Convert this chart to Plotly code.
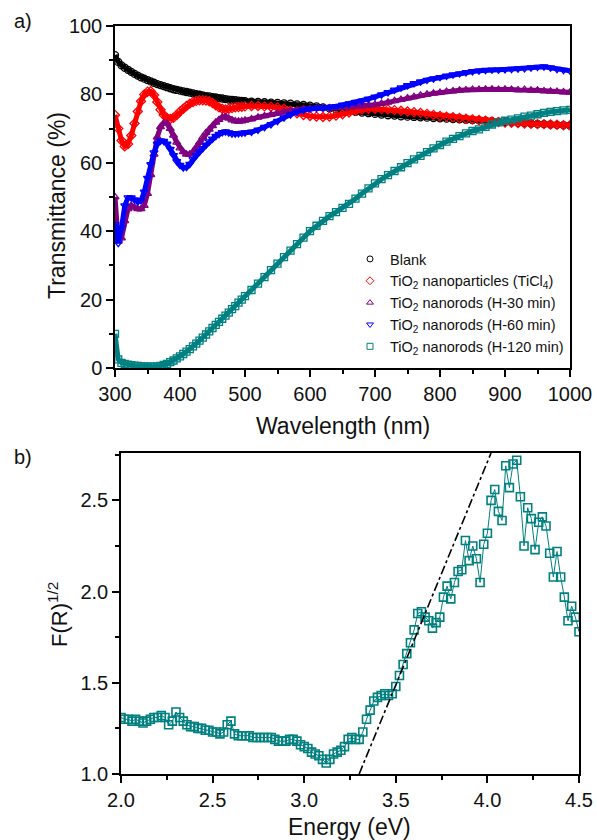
import plotly.graph_objects as go

# ---------------- Data: panel a) transmittance ----------------
wavelength = list(range(300, 500, 5)) + list(range(500, 1001, 10))

blank = [91.5, 89.5, 88.5, 87.8, 87.2, 86.6, 86.0, 85.5, 85.0, 84.6,
         84.2, 83.8, 83.4, 83.0, 82.7, 82.4, 82.1, 81.8, 81.5, 81.3,
         81.1, 80.9, 80.7, 80.5, 80.3, 80.1, 79.9, 79.7, 79.5, 79.4,
         79.2, 79.1, 78.9, 78.8, 78.6, 78.5, 78.4, 78.3, 78.2, 78.1,
         78.0, 77.9, 77.8, 77.7, 77.6, 77.5, 77.4, 77.3, 77.1, 76.9,
         76.7, 76.5, 76.2, 75.9, 75.6, 75.3, 75.1, 74.9, 74.7, 74.5,
         74.3, 74.1, 73.9, 73.8, 73.6, 73.5, 73.4, 73.3, 73.2, 73.1,
         73.0, 72.9, 72.8, 72.7, 72.6, 72.5, 72.4, 72.3, 72.2, 72.0,
         71.9, 71.8, 71.7, 71.6, 71.5, 71.4, 71.3, 71.2, 71.1, 71.0, 70.9]

np_ticl4 = [74.0, 70.0, 66.5, 64.8, 65.5, 68.0, 71.5, 75.0, 78.0, 80.0,
            80.8, 80.9, 79.8, 77.8, 75.5, 74.0, 73.1, 72.8, 73.2, 74.0,
            75.0, 75.8, 76.6, 77.3, 77.8, 78.1, 78.3, 78.3, 78.2, 78.0,
            77.5, 76.8, 76.2, 75.8, 75.6, 75.8, 76.0, 76.2, 76.3, 76.4,
            76.5, 76.6, 76.6, 76.5, 76.4, 76.2, 75.8, 75.2, 74.5, 74.0,
            73.7, 73.5, 73.4, 73.5, 73.8, 74.2, 74.7, 75.2, 75.6, 75.8,
            75.8, 75.7, 75.6, 75.4, 75.2, 75.0, 74.8, 74.6, 74.3, 74.0,
            73.7, 73.5, 73.3, 73.1, 72.9, 72.7, 72.5, 72.3, 72.1, 71.9,
            71.8, 71.7, 71.6, 71.5, 71.4, 71.3, 71.3, 71.2, 71.1, 71.0, 71.0]

nr_30 = [50.0, 37.0, 38.0, 43.0, 46.5, 47.5, 47.0, 46.5, 46.5, 47.5,
         51.0, 56.5, 62.5, 67.5, 70.5, 71.6, 71.5, 70.0, 68.0, 66.0,
         64.3, 63.2, 62.5, 62.5, 63.2, 64.5, 66.0, 67.5, 68.8, 69.8,
         70.8, 71.8, 72.6, 73.3, 73.5, 73.0, 72.5, 72.2, 72.1, 72.2,
         72.4, 72.8, 73.3, 73.7, 74.1, 74.5, 74.9, 75.2, 75.5, 75.7,
         75.8, 75.9, 76.0, 76.0, 76.1, 76.2, 76.3, 76.4, 76.5, 76.7,
         77.0, 77.3, 77.7, 78.1, 78.5, 78.9, 79.3, 79.7, 80.0, 80.3,
         80.5, 80.8, 81.0, 81.2, 81.3, 81.4, 81.4, 81.5, 81.5, 81.4,
         81.5, 81.4, 81.3, 81.4, 81.2, 81.2, 81.0, 80.9, 80.8, 80.7, 80.6]

nr_60 = [42.0, 36.5, 41.0, 47.5, 49.8, 49.8, 49.2, 48.6, 49.0, 51.5,
         55.5, 59.5, 63.0, 65.5, 66.4, 66.3, 65.5, 64.0, 62.2, 60.4,
         59.3, 58.6, 58.7, 59.6, 61.0, 62.2, 63.2, 64.2, 65.2, 66.2,
         67.0, 67.8, 68.4, 68.9, 69.1, 68.8, 68.5, 68.5, 68.6, 68.7,
         68.8, 69.0, 69.6, 70.4, 71.2, 72.2, 73.2, 74.1, 74.9, 75.4,
         75.8, 76.0, 76.1, 76.2, 76.5, 76.9, 77.3, 77.7, 78.1, 78.7,
         79.3, 79.9, 80.6, 81.3, 82.0, 82.6, 83.2, 83.7, 84.2, 84.6,
         85.0, 85.4, 85.8, 86.1, 86.4, 86.7, 86.9, 87.1, 87.2, 87.2,
         87.3, 87.4, 87.5, 87.6, 87.8, 88.0, 88.1, 87.8, 87.4, 87.1, 86.9]

nr_120 = [10.0, 2.5, 1.5, 1.2, 1.0, 0.8, 0.7, 0.6, 0.5, 0.5,
          0.4, 0.4, 0.4, 0.5, 0.6, 0.9, 1.2, 1.7, 2.2, 2.8,
          3.4, 4.1, 4.8, 5.5, 6.3, 7.1, 8.0, 8.9, 9.8, 10.7,
          11.7, 12.6, 13.5, 14.4, 15.3, 16.2, 17.2, 18.1, 19.1, 20.0,
          21.0, 22.8, 24.7, 26.6, 28.6, 30.5, 32.4, 34.3, 36.2, 38.1,
          40.0, 41.6, 43.0, 44.4, 45.6, 46.8, 48.0, 49.5, 51.0, 52.5,
          54.0, 55.2, 56.4, 57.6, 58.7, 59.9, 61.0, 62.0, 63.1, 64.2,
          65.2, 66.2, 67.0, 67.8, 68.6, 69.3, 69.8, 70.5, 71.2, 71.8,
          72.3, 72.6, 73.0, 73.5, 73.8, 74.2, 74.6, 74.9, 75.1, 75.3, 75.5]

series_names = ["Blank",
                "TiO<sub>2</sub> nanoparticles (TiCl<sub>4</sub>)",
                "TiO<sub>2</sub> nanorods (H-30 min)",
                "TiO<sub>2</sub> nanorods (H-60 min)",
                "TiO<sub>2</sub> nanorods (H-120 min)"]
series_values = [blank, np_ticl4, nr_30, nr_60, nr_120]
series_colors = ["#000000", "#FF0000", "#800080", "#0000FF", "#008080"]
series_symbols = ["circle-open", "diamond-open", "triangle-up-open",
                  "triangle-down-open", "square-open"]

a_xticks = [300, 400, 500, 600, 700, 800, 900, 1000]
a_yticks = [0, 20, 40, 60, 80, 100]

# ---------------- Data: panel b) Kubelka-Munk ----------------
energy = [2.00, 2.02, 2.04, 2.06, 2.08, 2.10, 2.12, 2.14, 2.16, 2.18,
          2.20, 2.22, 2.24, 2.26, 2.28, 2.30, 2.32, 2.34, 2.36, 2.38,
          2.40, 2.42, 2.44, 2.46, 2.48, 2.50, 2.52, 2.54, 2.56, 2.58,
          2.60, 2.62, 2.64, 2.66, 2.68, 2.70, 2.72, 2.74, 2.76, 2.78,
          2.80, 2.82, 2.84, 2.86, 2.88, 2.90, 2.92, 2.94, 2.96, 2.98,
          3.00, 3.02, 3.04, 3.06, 3.08, 3.10, 3.12, 3.14, 3.16, 3.18,
          3.20, 3.22, 3.24, 3.26, 3.28, 3.30, 3.32, 3.34, 3.36, 3.38,
          3.40, 3.42, 3.44, 3.46, 3.48, 3.50, 3.52, 3.54, 3.56, 3.58,
          3.60, 3.62, 3.64, 3.66, 3.68, 3.70, 3.72, 3.74, 3.76, 3.78,
          3.80, 3.82, 3.84, 3.86, 3.88, 3.90, 3.92, 3.94, 3.96, 3.98,
          4.00, 4.02, 4.04, 4.06, 4.08, 4.10, 4.12, 4.14, 4.16, 4.18,
          4.20, 4.22, 4.24, 4.26, 4.28, 4.30, 4.32, 4.34, 4.36, 4.38,
          4.40, 4.42, 4.44, 4.46, 4.48, 4.50]

f_r = [1.31, 1.30, 1.30, 1.29, 1.30, 1.29, 1.28, 1.29, 1.30, 1.31,
       1.31, 1.32, 1.31, 1.27, 1.29, 1.34, 1.31, 1.29, 1.27, 1.26,
       1.26, 1.25, 1.25, 1.24, 1.24, 1.23, 1.23, 1.22, 1.23, 1.27,
       1.29, 1.22, 1.21, 1.21, 1.21, 1.21, 1.20, 1.20, 1.20, 1.20,
       1.20, 1.20, 1.19, 1.18, 1.18, 1.18, 1.19, 1.19, 1.18, 1.16,
       1.15, 1.14, 1.12, 1.11, 1.10, 1.08, 1.06, 1.08, 1.11, 1.12,
       1.13, 1.15, 1.19, 1.20, 1.19, 1.19, 1.23, 1.30, 1.35, 1.40,
       1.42, 1.43, 1.44, 1.43, 1.44, 1.48, 1.54, 1.60, 1.66, 1.72,
       1.79, 1.88, 1.89, 1.86, 1.84, 1.80, 1.83, 1.86, 1.97, 2.03,
       1.96, 2.05, 2.11, 2.12, 2.28, 2.17, 2.25, 2.18, 2.05, 2.26,
       2.32, 2.50, 2.56, 2.44, 2.39, 2.69, 2.57, 2.70, 2.72, 2.52,
       2.25, 2.46, 2.40, 2.23, 2.38, 2.41, 2.36, 2.21, 2.08, 2.22,
       2.08, 1.97, 1.84, 1.92, 1.86, 1.78]

fit_energy = [3.30, 4.02]
fit_value = [1.00, 2.76]

b_xticks = [2.0, 2.5, 3.0, 3.5, 4.0, 4.5]
b_yticks = [1.0, 1.5, 2.0, 2.5]

# ---------------- Figure ----------------
# The page body margin is removed (see post_script), so the figure fills the window
W, H = 597, 840
FONT = "Arial, 'Liberation Sans', sans-serif"


def px_x(p):
    return p / W


def px_y(p):
    return 1 - p / H


fig = go.Figure()

for name, vals, col, sym in zip(series_names, series_values, series_colors, series_symbols):
    fig.add_trace(go.Scatter(
        x=wavelength, y=vals, mode="lines+markers", showlegend=False,
        line=dict(color=col, width=5),
        marker=dict(symbol=sym, size=7, color=col, line=dict(width=1.3, color=col)),
        xaxis="x", yaxis="y", name=name))

for name, col, sym in zip(series_names, series_colors, series_symbols):
    fig.add_trace(go.Scatter(
        x=[None], y=[None], mode="markers", name=name,
        marker=dict(symbol=sym, size=6, color=col, line=dict(width=1, color=col)),
        xaxis="x", yaxis="y"))

fig.add_trace(go.Scatter(
    x=energy, y=f_r, mode="lines+markers", showlegend=False,
    line=dict(color="#008080", width=1),
    marker=dict(symbol="square-open", size=8, color="#008080", line=dict(width=1.6, color="#008080")),
    xaxis="x2", yaxis="y2"))

fig.add_trace(go.Scatter(
    x=fit_energy, y=fit_value, mode="lines", showlegend=False,
    line=dict(color="black", width=1.6, dash="dashdot"),
    xaxis="x2", yaxis="y2"))

axis_common = dict(
    showline=True, linewidth=1.5, linecolor="black", mirror=True,
    ticks="outside", ticklen=7, tickwidth=1.5, tickcolor="black",
    showgrid=False, zeroline=False, automargin=False,
    ticklabeloverflow="allow",
    tickfont=dict(family=FONT, size=20, color="#111111"),
)

fig.update_layout(
    width=W, height=H,
    margin=dict(l=0, r=0, t=0, b=0, autoexpand=False),
    paper_bgcolor="white", plot_bgcolor="white",
    font=dict(family=FONT, color="#111111"),
    xaxis=dict(axis_common, domain=[px_x(115), px_x(570)], anchor="y",
               range=[300, 1000], tickvals=a_xticks,
               minor=dict(ticks="outside", ticklen=4, tickwidth=1.5, tickcolor="black", dtick=50, tick0=300)),
    yaxis=dict(axis_common, domain=[px_y(368), px_y(26)], anchor="x",
               range=[0, 100], tickvals=a_yticks,
               minor=dict(ticks="outside", ticklen=4, tickwidth=1.5, tickcolor="black", dtick=10, tick0=0)),
    xaxis2=dict(axis_common, domain=[px_x(121), px_x(579)], anchor="y2",
                range=[2.0, 4.5], tickvals=b_xticks, tickformat=".1f",
                minor=dict(ticks="outside", ticklen=4, tickwidth=1.5, tickcolor="black", dtick=0.25, tick0=2.0)),
    yaxis2=dict(axis_common, domain=[px_y(774), px_y(453)], anchor="x2",
                range=[1.0, 2.76], tickvals=b_yticks, tickformat=".1f",
                minor=dict(ticks="outside", ticklen=4, tickwidth=1.5, tickcolor="black", dtick=0.25, tick0=1.0)),
    legend=dict(x=px_x(350), y=px_y(243), xanchor="left", yanchor="top",
                bgcolor="rgba(0,0,0,0)", borderwidth=0,
                font=dict(family=FONT, size=14.5, color="#111111"),
                itemwidth=30, tracegroupgap=0),
    showlegend=True,
)

annots = [
    dict(text="a)", x=px_x(12), y=px_y(21), xanchor="left", yanchor="middle", font=dict(size=20)),
    dict(text="b)", x=px_x(12), y=px_y(457), xanchor="left", yanchor="middle", font=dict(size=20)),
    dict(text="Transmittance (%)", x=px_x(57), y=px_y(206), textangle=-90,
         xanchor="center", yanchor="middle", font=dict(size=23)),
    dict(text="Wavelength (nm)", x=px_x(343), y=px_y(426), xanchor="center", yanchor="middle",
         font=dict(size=23)),
    dict(text="F(R)<sup>1/2</sup>", x=px_x(58), y=px_y(615), textangle=-90,
         xanchor="center", yanchor="middle", font=dict(size=22)),
    dict(text="Energy (eV)", x=px_x(350), y=px_y(827), xanchor="center", yanchor="middle",
         font=dict(size=23)),
]
for a in annots:
    a.update(xref="paper", yref="paper", showarrow=False)
    a["font"].update(family=FONT, color="#111111")
fig.update_layout(annotations=annots)

fig.write_html("out.html",
               config={"displayModeBar": False},
               post_script="document.body.style.margin='0';document.body.style.overflow='hidden';")
